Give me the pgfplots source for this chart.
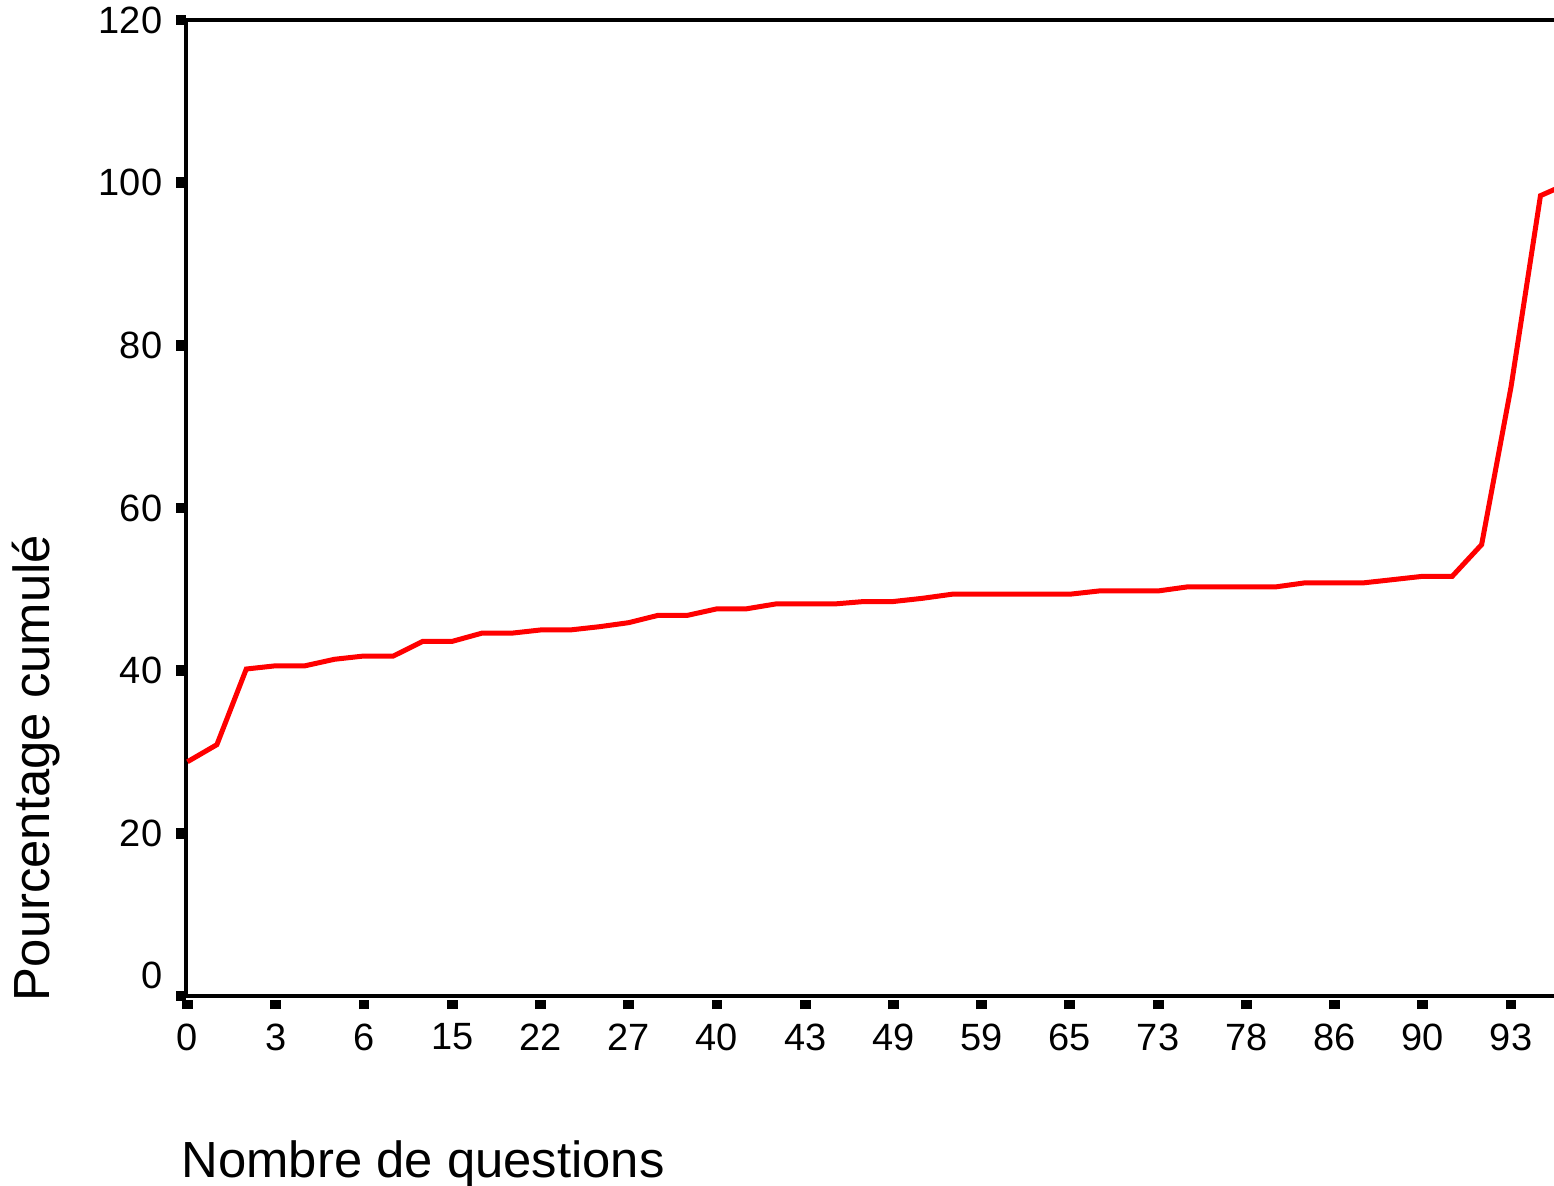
\documentclass[border=0pt]{standalone}
\usepackage{pgfplots}
\pgfplotsset{compat=1.18}
\usepackage{fontspec}
\setmainfont{Liberation Sans}
\usetikzlibrary{calc}

\pgfplotstableread{
idx val
0 28.8
1 30.9
2 40.2
3 40.6
4 40.6
5 41.4
6 41.8
7 41.8
8 43.6
9 43.6
10 44.6
11 44.6
12 45.0
13 45.0
14 45.4
15 45.9
16 46.8
17 46.8
18 47.6
19 47.6
20 48.2
21 48.2
22 48.2
23 48.5
24 48.5
25 48.9
26 49.4
27 49.4
28 49.4
29 49.4
30 49.4
31 49.8
32 49.8
33 49.8
34 50.3
35 50.3
36 50.3
37 50.3
38 50.8
39 50.8
40 50.8
41 51.2
42 51.6
43 51.6
44 55.5
45 74.9
46 98.4
47 100
}\datatable

\begin{document}
\begin{tikzpicture}
\begin{axis}[
  scale only axis,
  width=342pt, height=244pt,
  xmin=-0.05, xmax=46.46,
  ymin=0, ymax=120,
  axis x line*=bottom, axis y line*=left,
  axis line style={line width=1pt, -},
  xtick={0,3,...,45},
  xticklabels={0,3,6,15,22,27,40,43,49,59,65,73,78,86,90,93},
  ytick={20,40,60,80,100,120},
  yticklabels={20,40,60,80,100,120},
  extra y ticks={0}, extra y tick labels={0},
  extra y tick style={yticklabel style={yshift=5.25pt}},
  tick align=outside,
  major tick length=2.4pt,
  xtick style={line width=2.7pt, black, yshift=-0.9pt},
  ytick style={line width=2.7pt, black},
  tick label style={font=\fontsize{9.5}{11}\selectfont, black},
  xticklabel style={yshift=-1pt},
  /pgf/number format/assume math mode=true,
  xlabel={Nombre de questions},
  ylabel={Pourcentage cumulé},
  label style={font=\fontsize{12.7}{14}\selectfont, inner sep=0pt},
  xlabel style={at={(axis description cs:-0.0037,-0.1855)}, anchor=base west},
  ylabel style={at={(axis description cs:-0.1001,-0.006)}, anchor=base west},
]
\addplot[red, line width=1.25pt, mark=none] table[x=idx, y=val] {\datatable};
\end{axis}
\draw[line width=1pt] (current axis.north west) -- (current axis.north east);
\pgfresetboundingbox
\path ($(current axis.south west)+(-46.5pt,-47.5pt)$) rectangle ($(current axis.north east)+(0pt,5pt)$);
\end{tikzpicture}
\end{document}
